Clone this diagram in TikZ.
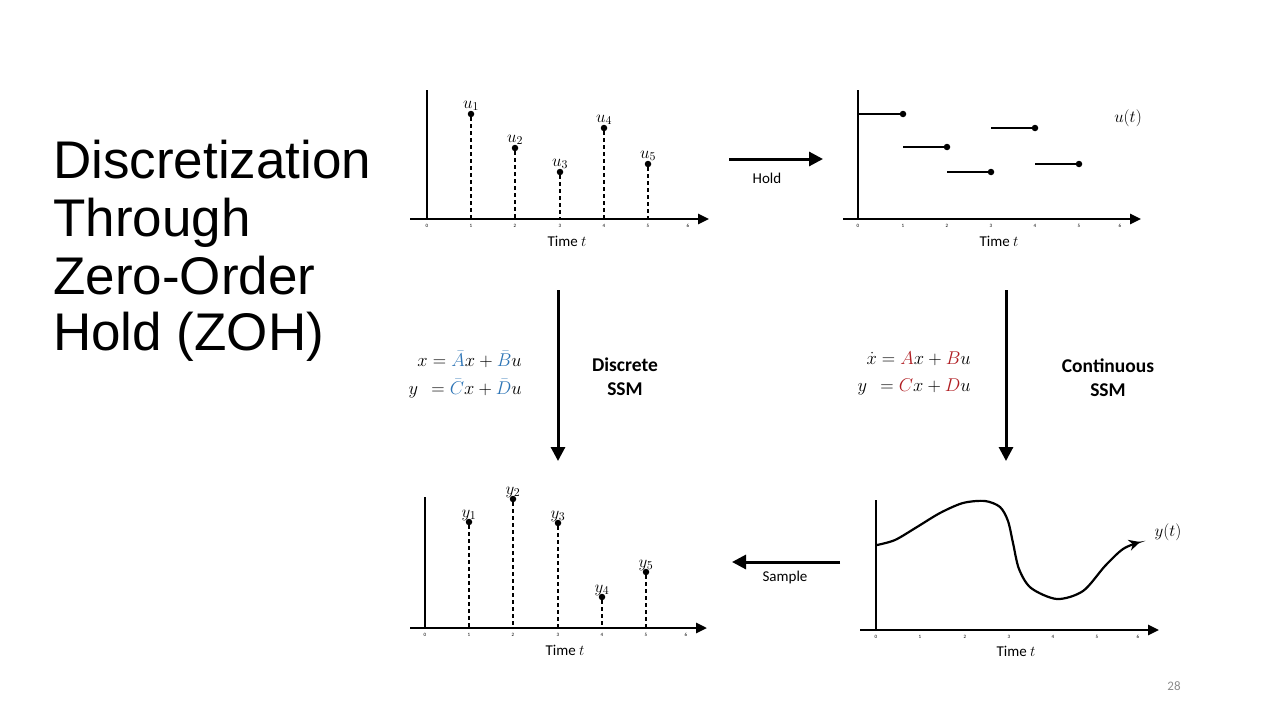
\RequirePackage{fix-cm}
\documentclass[tikz,border=0pt]{standalone}
\usepackage{fontspec}
\setmainfont{Carlito}
\newfontfamily\titlefont{Liberation Sans}
\usetikzlibrary{arrows.meta}
\definecolor{eqblue}{HTML}{2E75B6}
\definecolor{eqred}{HTML}{B01E23}
\definecolor{pagegray}{HTML}{8C8C8C}
\begin{document}
\begin{tikzpicture}[x=1pt,y=-1pt,
  axis/.style={line width=2.6pt,-{Triangle[length=11pt,width=10pt]}},
  yaxis/.style={line width=2.6pt},
  stem/.style={line width=1.1pt,dash pattern=on 4pt off 3pt},
  dot/.style={circle,fill=black,inner sep=0pt,minimum size=6.5pt},
  holdseg/.style={line width=1.3pt},
  tick/.style={font=\fontsize{5}{5}\selectfont,inner sep=0pt},
  lab/.style={font=\fontsize{15}{18}\selectfont,inner sep=0pt},
  mlab/.style={font=\fontsize{17}{20}\selectfont,inner sep=0.5pt},
  eq/.style={font=\fontsize{18.5}{22}\selectfont,inner sep=0pt,anchor=base east},
  ssm/.style={font=\fontsize{19.5}{24}\selectfont\bfseries,align=center,inner sep=0pt},
  bigarrow/.style={line width=3pt,-{Triangle[length=14pt,width=14pt]}},
  curve/.style={line width=2.2pt,-{Stealth[length=11pt,width=11pt]}},
  ttl/.style={font=\titlefont\fontsize{53}{58}\selectfont,anchor=base west,inner sep=0pt}
]
\useasboundingbox (0,0) rectangle (1280,720);

% Title
\node[ttl] (t1) at (53,178) {Discretization};
\node[ttl] (t2) at (53,236) {Through};
\node[ttl] (t3) at (53,294) {Zero-Order};
\node[ttl] (t4) at (53,350) {Hold (ZOH)};

% ---------- Top-left: discrete input ----------
\coordinate (tlO) at (427,219);
\coordinate (tlTop) at (427,90);
\coordinate (tlL) at (410,219);
\coordinate (tlR) at (709,219);
\draw[yaxis] (tlTop) -- (tlO);
\draw[axis] (tlL) -- (tlR);
\foreach \i/\x in {0/427,1/471,2/515,3/560,4/604,5/648,6/688}
  \node[tick] (tlt\i) at (\x,226) {\i};
\foreach \n/\x/\y in {1/471/114,2/515/148,3/560/172,4/604/128,5/648/164}{
  \node[dot] (u\n) at (\x,\y) {};
  \coordinate (ub\n) at (\x,219);
  \draw[stem] (u\n) -- (ub\n);
  \node[mlab,anchor=south,yshift=-1pt] (ul\n) at (u\n.north) {$u_\n$};
}
\node[lab] (tlTime) at (567,241) {Time $t$};

% ---------- Hold arrow ----------
\coordinate (hA) at (729,159);
\coordinate (hB) at (823,159);
\draw[bigarrow] (hA) -- (hB);
\node[lab] (hold) at (767,178) {Hold};

% ---------- Top-right: held signal ----------
\coordinate (trO) at (858,219);
\coordinate (trTop) at (858,90);
\coordinate (trL) at (843,219);
\coordinate (trR) at (1141,219);
\draw[yaxis] (trTop) -- (trO);
\draw[axis] (trL) -- (trR);
\foreach \i/\x in {0/858,1/903,2/947,3/991,4/1035,5/1079,6/1120}
  \node[tick] (trt\i) at (\x,226) {\i};
\foreach \n/\xa/\xb/\y in {1/859/903/114,2/903/947/147,3/947/991/172,4/991/1035/128,5/1035/1079/164}{
  \node[dot] (h\n) at (\xb,\y) {};
  \coordinate (hs\n) at (\xa,\y);
  \draw[holdseg] (hs\n) -- (h\n);
}
\node[mlab] (ut) at (1128,118) {$u(t)$};
\node[lab] (trTime) at (999,241) {Time $t$};

% ---------- Left down arrow: discrete SSM ----------
\coordinate (dA) at (558,290);
\coordinate (dB) at (558,461);
\draw[bigarrow] (dA) -- (dB);
\node[eq] (deq1) at (522,366) {$x=\textcolor{eqblue}{\bar{A}}x+\textcolor{eqblue}{\bar{B}}u$};
\node[eq] (deq2) at (522,394) {$y\;\,=\textcolor{eqblue}{\bar{C}}x+\textcolor{eqblue}{\bar{D}}u$};
\node[ssm] (dssm) at (625,377) {Discrete\\SSM};

% ---------- Right down arrow: continuous SSM ----------
\coordinate (cA) at (1006,290);
\coordinate (cB) at (1006,461);
\draw[bigarrow] (cA) -- (cB);
\node[eq] (ceq1) at (971,364) {$\dot{x}=\textcolor{eqred}{A}x+\textcolor{eqred}{B}u$};
\node[eq] (ceq2) at (971,391) {$y\;\,=\textcolor{eqred}{C}x+\textcolor{eqred}{D}u$};
\node[ssm] (cssm) at (1108,378) {Continuous\\SSM};

% ---------- Bottom-right: continuous output ----------
\coordinate (brO) at (876,630);
\coordinate (brTop) at (876,500);
\coordinate (brL) at (860,630);
\coordinate (brR) at (1159,630);
\draw[yaxis] (brTop) -- (brO);
\draw[axis] (brL) -- (brR);
\foreach \i/\x in {0/876,1/920,2/965,3/1009,4/1053,5/1097,6/1138}
  \node[tick] (brt\i) at (\x,637) {\i};
\draw[curve] plot[smooth,tension=0.5] coordinates {(877,545) (895,540) (917,527) (940,513) (963,503) (985,501) (1000,507) (1008,521) (1013,543) (1019,569) (1031,588) (1057,599) (1083,591) (1105,566) (1123,549) (1140,542)};
\node[mlab] (yt) at (1168,532) {$y(t)$};
\node[lab] (brTime) at (1016,651) {Time $t$};

% ---------- Sample arrow ----------
\coordinate (sA) at (840,562);
\coordinate (sB) at (732,562);
\draw[bigarrow] (sA) -- (sB);
\node[lab] (sample) at (785,577) {Sample};

% ---------- Bottom-left: discrete output ----------
\coordinate (blO) at (425,628);
\coordinate (blTop) at (425,497);
\coordinate (blL) at (410,628);
\coordinate (blR) at (707,628);
\draw[yaxis] (blTop) -- (blO);
\draw[axis] (blL) -- (blR);
\foreach \i/\x in {0/425,1/469,2/513,3/558,4/602,5/646,6/686}
  \node[tick] (blt\i) at (\x,635) {\i};
\foreach \n/\x/\y in {1/469/522,2/513/499,3/558/523,4/602/597,5/646/572}{
  \node[dot] (y\n) at (\x,\y) {};
  \coordinate (yb\n) at (\x,628);
  \draw[stem] (y\n) -- (yb\n);
  \node[mlab,anchor=south,yshift=-2.5pt] (yl\n) at (y\n.north) {$y_\n$};
}
\node[lab] (blTime) at (565,650) {Time $t$};

% page number
\node[font=\fontsize{13}{15}\selectfont,text=pagegray] (pg) at (1174,686) {28};
\end{tikzpicture}
\end{document}
